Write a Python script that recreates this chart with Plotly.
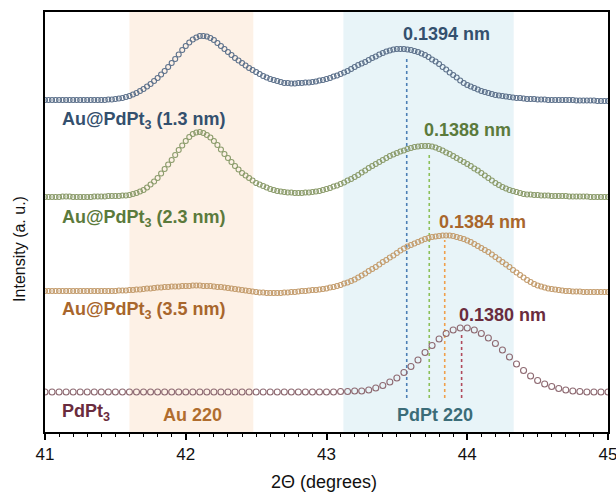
import numpy as np
import plotly.graph_objects as go

# ---------------- data ----------------
x_start = 41.0
step_dense = 0.025   # spacing of the three Au@PdPt3 patterns
step_sparse = 0.05   # spacing of the PdPt3 pattern

au13 = ([332] * 18 + [332.5, 332.5,
        333, 333.5, 334, 335,
        336, 337.5, 339, 341,
        343, 345.5, 348, 351,
        354, 357.5, 361, 365,
        369, 373, 377.5, 382,
        386, 389.5, 392.5, 394.5,
        396, 396, 395.5, 394,
        392, 389, 386, 383,
        380, 377, 374, 371.5,
        369, 366.5, 364, 362,
        360, 358, 356, 354.5,
        353, 352, 351, 350,
        349, 349, 348.5, 348.5,
        349, 349, 349.5, 349.5,
        350, 350.5, 351.5, 352,
        353, 354, 355.5, 356.5,
        358, 359.5, 361, 363,
        365, 367, 368.5, 370,
        372, 374, 375.5, 377.5,
        379, 380.5, 381.5, 382.5,
        383, 383, 383, 382.5,
        382, 381, 380, 378.5,
        377, 375, 372.5, 370.5,
        368, 365, 362.5, 359.5,
        357, 354.5, 351.5, 349,
        347, 345.5, 344, 342.5,
        341, 340, 339, 338,
        337, 336.5, 336, 335.5,
        335, 334.5, 334, 334,
        333.5, 333, 333, 333,
        332.5, 332.5, 332.5, 332,
        332, 332, 332, 332,
        332, 332, 332, 331.5,
        331.5, 331.5, 331.5, 331.5,
        331.5, 331, 331, 331,
        331])

au23 = [235, 235, 235, 235,
        235, 235.5, 235.5, 235.5,
        235, 235, 235, 235,
        235, 235, 235.5, 235.5,
        235.5, 235.5, 236, 236,
        236, 236, 236.5, 236.5,
        237, 238, 239, 240.5,
        242, 244.5, 247.5, 250.5,
        254, 258.5, 263, 267.5,
        272, 277, 282, 286.5,
        291, 295, 298, 299.5,
        300, 299, 297, 294.5,
        291, 287, 282.5, 278,
        274, 270, 266, 262.5,
        259, 256.5, 254, 251.5,
        249, 247.5, 246, 244.5,
        243, 242, 241, 240.5,
        240, 239.5, 239.5, 239,
        239, 239, 239.5, 239.5,
        240, 240.5, 241, 242,
        243, 244, 245.5, 246.5,
        248, 249.5, 251.5, 253,
        255, 257, 259.5, 261.5,
        264, 266, 268, 270,
        272, 274, 276, 277.5,
        279, 280.5, 281.5, 283,
        284, 285, 285.5, 286,
        286, 286, 285.5, 284.5,
        283, 281.5, 279.5, 278,
        276, 274, 272, 270,
        268, 266, 263.5, 261.5,
        259, 256.5, 254, 251.5,
        249, 247, 245, 243.5,
        242, 241, 240, 239,
        238, 237.5, 237.5, 237,
        237, 236.5, 236.5, 236.5,
        236, 236, 236, 236,
        236, 235.5, 235.5, 235.5,
        235.5, 235.5, 235.5, 235,
        235, 235, 235, 235,
        235]

au35 = ([141] * 21 + [141.5, 141.5, 141.5,
        142, 142, 142.5, 142.5,
        143, 143.5, 143.5, 144,
        144.5, 144.5, 145, 145,
        145.5, 145.5, 145.5, 146,
        146, 146, 146.5, 146.5,
        146.5, 146, 146, 146,
        145.5, 145, 145, 144.5,
        144, 143.5, 143, 142.5,
        142, 141.5, 141, 140.5,
        140, 139.5, 139.5, 139,
        139, 139, 139, 139,
        139.5, 139.5, 140, 140,
        140.5, 141, 141, 141.5,
        142, 142, 142.5, 143,
        143.5, 144.5, 145, 146,
        147, 148.5, 149.5, 151,
        152.5, 154.5, 156.5, 158.5,
        161, 163, 165, 167.5,
        170, 172, 174.5, 176.5,
        179, 181.5, 183.5, 185.5,
        187, 188.5, 190, 191.5,
        193, 194, 195, 195.5,
        196, 196.5, 196.5, 196.5,
        196, 195, 194, 193,
        191.5, 190, 188, 186,
        184, 182, 180, 177.5,
        175, 172.5, 170, 167.5,
        165, 162, 159.5, 157,
        154.5, 152, 150, 148,
        146.5, 145.5, 144.5, 143.5,
        143, 142.5, 142, 141.5,
        141, 141, 140.5, 140.5,
        140.5, 140, 140, 140,
        140, 140, 140, 140,
        140])

pdpt3 = [40] * 42 + [40.5, 40.5, 41,
         41, 42, 44, 46.5, 50, 54, 59.5, 65.5, 72, 79.5,
         86.5, 93, 98.5, 102, 104, 104, 102, 98.5, 94, 88.5,
         82, 75, 68, 61.5, 56, 51.5, 48, 45.5, 43.5, 42,
         41, 40.5, 40, 40, 40, 40]

peak_pos = [43.57, 43.73, 43.84, 43.96]
peak_top = [375, 280, 192, 97]
peak_bottom = 34
d_labels = ["0.1394 nm", "0.1388 nm", "0.1384 nm", "0.1380 nm"]
d_label_x = [43.85, 44.005, 44.11, 44.25]
d_label_y = [398, 302, 210, 117]

series_names = ["Au@PdPt<sub>3</sub> (1.3 nm)", "Au@PdPt<sub>3</sub> (2.3 nm)",
                "Au@PdPt<sub>3</sub> (3.5 nm)", "PdPt<sub>3</sub>"]
series_label_y = [312, 214, 122, 20]

band_ranges = [(41.60, 42.48), (43.12, 44.33)]
band_names = ["Au 220", "PdPt 220"]
band_label_x = [42.05, 43.77]

x_ticks = [41, 42, 43, 44, 45]

# ---------------- styles ----------------
marker_colors = ["#5e728c", "#8c9c6c", "#c49d6e", "#8e6a72"]
text_colors = ["#34506e", "#5b7a3c", "#a8662c", "#6a2c3e"]
dash_colors = ["#4c7fb5", "#8cc05a", "#f0a04c", "#b04a5c"]
band_fill = ["#fdf1e6", "#e8f4f8"]
band_text = ["#b06d2e", "#3b6c78"]
FONT = "Arial, Liberation Sans, sans-serif"

fig = go.Figure()

for (x0, x1), col in zip(band_ranges, band_fill):
    fig.add_shape(type="rect", xref="x", yref="paper", x0=x0, x1=x1, y0=0, y1=1,
                  fillcolor=col, line_width=0, layer="below")

for px, top, col in zip(peak_pos, peak_top, dash_colors):
    fig.add_trace(go.Scatter(x=[px, px], y=[peak_bottom, top], mode="lines",
                             line=dict(color=col, width=1.6, dash="dot"),
                             showlegend=False, hoverinfo="skip"))

for vals, col in zip([au13, au23, au35], marker_colors[:3]):
    xs = x_start + step_dense * np.arange(len(vals))
    fig.add_trace(go.Scatter(x=xs, y=vals, mode="markers",
                             marker=dict(symbol="circle-open", size=5,
                                         color=col, line=dict(width=1.1, color=col)),
                             showlegend=False))

xs4 = x_start + step_sparse * np.arange(len(pdpt3))
fig.add_trace(go.Scatter(x=xs4, y=pdpt3, mode="markers",
                         marker=dict(symbol="circle-open", size=6,
                                     color=marker_colors[3],
                                     line=dict(width=1.1, color=marker_colors[3])),
                         showlegend=False))

annotations = []
for t, ax_, ay_, col in zip(d_labels, d_label_x, d_label_y, text_colors):
    annotations.append(dict(x=ax_, y=ay_, xref="x", yref="y", text="<b>" + t + "</b>",
                            showarrow=False, font=dict(family=FONT, size=18, color=col),
                            xanchor="center", yanchor="middle"))
for t, ly, col in zip(series_names, series_label_y, text_colors):
    annotations.append(dict(x=41.107, y=ly, xref="x", yref="y", text="<b>" + t + "</b>",
                            showarrow=False, font=dict(family=FONT, size=18, color=col),
                            xanchor="left", yanchor="middle"))
for name, cx, col in zip(band_names, band_label_x, band_text):
    annotations.append(dict(x=cx, y=17, xref="x", yref="y", text="<b>" + name + "</b>",
                            showarrow=False, font=dict(family=FONT, size=18, color=col),
                            xanchor="center", yanchor="middle"))

annotations.append(dict(x=-0.0444, y=0.436, xref="paper", yref="paper",
                        text="Intensity (a. u.)", textangle=-90, showarrow=False,
                        font=dict(family=FONT, size=16, color="#111"),
                        xanchor="center", yanchor="middle"))
annotations.append(dict(x=0.4956, y=-0.119, xref="paper", yref="paper",
                        text="2Θ (degrees)", showarrow=False,
                        font=dict(family=FONT, size=18, color="#111"),
                        xanchor="center", yanchor="middle"))

fig.update_layout(
    width=616, height=492,
    margin=dict(l=45, r=8, t=12, b=60, autoexpand=False),
    paper_bgcolor="white", plot_bgcolor="white",
    annotations=annotations,
    xaxis=dict(range=[41, 45], tickvals=x_ticks, ticktext=[str(v) for v in x_ticks],
               automargin=False, ticklabeloverflow="allow",
               ticks="outside", ticklen=6, tickwidth=1.5, tickcolor="black",
               minor=dict(dtick=0.1, ticks="outside", ticklen=3, tickwidth=1.2,
                          tickcolor="black", showgrid=False),
               showline=True, linecolor="black", linewidth=2, mirror=True,
               showgrid=False, zeroline=False,
               tickfont=dict(family=FONT, size=17, color="#111")),
    yaxis=dict(range=[0, 420], showticklabels=False, ticks="", automargin=False,
               showline=True, linecolor="black", linewidth=2, mirror=True,
               showgrid=False, zeroline=False),
)

# remove the default 8px page margin so the 616x492 figure fills the window exactly
fig.write_html(
    "out.html",
    config={"displayModeBar": False},
    post_script="document.body.style.margin='0';"
                "document.documentElement.style.overflow='hidden';",
)
